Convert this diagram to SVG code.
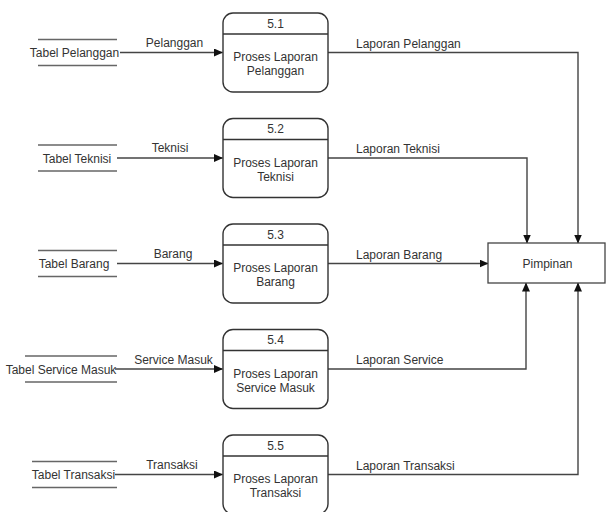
<svg xmlns="http://www.w3.org/2000/svg" width="608" height="512" viewBox="0 0 608 512">
  <defs>
    <marker id="arrow" markerWidth="9" markerHeight="8" refX="8.5" refY="4" orient="auto" markerUnits="userSpaceOnUse">
      <path d="M0,0 L9,4 L0,8 Z" fill="#111"/>
    </marker>
    <style>
      text { font-family: "Liberation Sans", Arial, sans-serif; font-size: 12px; fill: #333; }
      .mid { text-anchor: middle; }
      .proc { fill: #fff; stroke: #333; stroke-width: 1.4; }
      .div { stroke: #333; stroke-width: 1.4; }
      .store { stroke: #666; stroke-width: 1.5; }
      .flow { fill: none; stroke: #444; stroke-width: 1.4; marker-end: url(#arrow); }
      .ent { fill: #fff; stroke: #444; stroke-width: 1.3; }
    </style>
  </defs>
  <rect width="608" height="512" fill="#fff"/>

  <!-- connectors -->
  <g id="connectors">
    <!-- data stores to processes -->
    <line class="flow" x1="120" y1="52.5" x2="222.5" y2="52.5"/>
    <line class="flow" x1="117" y1="158" x2="222.5" y2="158"/>
    <line class="flow" x1="117" y1="263.5" x2="222.5" y2="263.5"/>
    <line class="flow" x1="115" y1="369" x2="222.5" y2="369"/>
    <line class="flow" x1="115" y1="474.5" x2="222.5" y2="474.5"/>
    <!-- processes to Pimpinan -->
    <polyline class="flow" points="328,52.5 578,52.5 578,243"/>
    <polyline class="flow" points="328,158 527,158 527,243"/>
    <line class="flow" x1="328" y1="263.5" x2="488" y2="263.5"/>
    <polyline class="flow" points="328,369 526,369 526,283"/>
    <polyline class="flow" points="328,474.5 578,474.5 578,283"/>
    <!-- flow labels -->
    <text class="mid" x="174.5" y="46.5">Pelanggan</text>
    <text class="mid" x="170" y="152">Teknisi</text>
    <text class="mid" x="173" y="257.5">Barang</text>
    <text class="mid" x="173.5" y="363.5">Service Masuk</text>
    <text class="mid" x="172" y="468.5">Transaksi</text>
    <text x="356" y="47.5">Laporan Pelanggan</text>
    <text x="356" y="153">Laporan Teknisi</text>
    <text x="356" y="258.5">Laporan Barang</text>
    <text x="356" y="364">Laporan Service</text>
    <text x="356" y="469.5">Laporan Transaksi</text>
  </g>

  <!-- data stores -->
  <g id="store-pelanggan">
    <line class="store" x1="38" y1="39.5" x2="117" y2="39.5"/>
    <line class="store" x1="38" y1="65.5" x2="117" y2="65.5"/>
    <text class="mid" x="74.5" y="57">Tabel Pelanggan</text>
  </g>
  <g id="store-teknisi">
    <line class="store" x1="38" y1="145" x2="117" y2="145"/>
    <line class="store" x1="38" y1="171" x2="117" y2="171"/>
    <text class="mid" x="77" y="162.5">Tabel Teknisi</text>
  </g>
  <g id="store-barang">
    <line class="store" x1="38" y1="250.5" x2="117" y2="250.5"/>
    <line class="store" x1="38" y1="276.5" x2="117" y2="276.5"/>
    <text class="mid" x="74" y="268">Tabel Barang</text>
  </g>
  <g id="store-service">
    <line class="store" x1="25" y1="356" x2="117" y2="356"/>
    <line class="store" x1="25" y1="382" x2="117" y2="382"/>
    <text class="mid" x="61" y="373.5">Tabel Service Masuk</text>
  </g>
  <g id="store-transaksi">
    <line class="store" x1="32" y1="461.5" x2="117" y2="461.5"/>
    <line class="store" x1="32" y1="487.5" x2="117" y2="487.5"/>
    <text class="mid" x="73.5" y="479">Tabel Transaksi</text>
  </g>

  <!-- processes -->
  <g id="proc-5-1">
    <rect class="proc" x="223" y="13" width="105" height="79" rx="10"/>
    <line class="div" x1="223" y1="34" x2="328" y2="34"/>
    <text class="mid" x="275.5" y="27.5">5.1</text>
    <text class="mid" x="275.5" y="61">Proses Laporan</text>
    <text class="mid" x="275.5" y="75">Pelanggan</text>
  </g>
  <g id="proc-5-2">
    <rect class="proc" x="223" y="118.5" width="105" height="79" rx="10"/>
    <line class="div" x1="223" y1="139.5" x2="328" y2="139.5"/>
    <text class="mid" x="275.5" y="133">5.2</text>
    <text class="mid" x="275.5" y="166.5">Proses Laporan</text>
    <text class="mid" x="275.5" y="180.5">Teknisi</text>
  </g>
  <g id="proc-5-3">
    <rect class="proc" x="223" y="224" width="105" height="79" rx="10"/>
    <line class="div" x1="223" y1="245" x2="328" y2="245"/>
    <text class="mid" x="275.5" y="238.5">5.3</text>
    <text class="mid" x="275.5" y="272">Proses Laporan</text>
    <text class="mid" x="275.5" y="286">Barang</text>
  </g>
  <g id="proc-5-4">
    <rect class="proc" x="223" y="329.5" width="105" height="79" rx="10"/>
    <line class="div" x1="223" y1="350.5" x2="328" y2="350.5"/>
    <text class="mid" x="275.5" y="344">5.4</text>
    <text class="mid" x="275.5" y="377.5">Proses Laporan</text>
    <text class="mid" x="275.5" y="391.5">Service Masuk</text>
  </g>
  <g id="proc-5-5">
    <rect class="proc" x="223" y="435" width="105" height="79" rx="10"/>
    <line class="div" x1="223" y1="456" x2="328" y2="456"/>
    <text class="mid" x="275.5" y="449.5">5.5</text>
    <text class="mid" x="275.5" y="483">Proses Laporan</text>
    <text class="mid" x="275.5" y="497">Transaksi</text>
  </g>

  <!-- external entity -->
  <g id="pimpinan">
    <rect class="ent" x="488" y="243" width="117" height="40"/>
    <text class="mid" x="547.5" y="267.5">Pimpinan</text>
  </g>
</svg>
